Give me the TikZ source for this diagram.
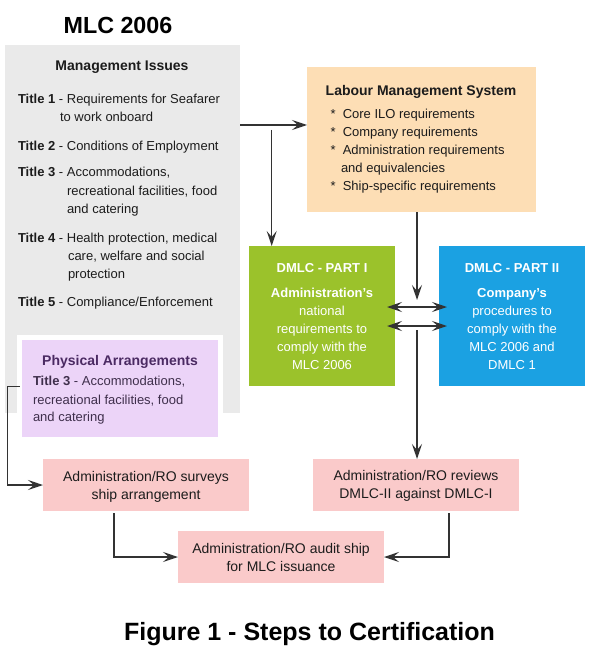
\documentclass[tikz,border=0pt]{standalone}
\usepackage{fontspec}
\setmainfont{Liberation Sans}
\usetikzlibrary{arrows.meta}
\definecolor{grayc}{HTML}{EAEAEA}
\definecolor{purc}{HTML}{ECD4F8}
\definecolor{purh}{HTML}{4B2A63}
\definecolor{purt}{HTML}{3F2F4C}
\definecolor{peach}{HTML}{FDDEB5}
\definecolor{greenc}{HTML}{9BC22B}
\definecolor{bluec}{HTML}{1BA1E2}
\definecolor{pinkc}{HTML}{FACACA}
\definecolor{arrc}{HTML}{333333}
\definecolor{txtc}{HTML}{1C1C1C}
\tikzset{
  box/.style={rectangle, inner sep=0pt, outer sep=0pt, draw=none},
  tx/.style={inner sep=0pt, outer sep=0pt, text=txtc, font=\fontsize{13}{18}\selectfont},
  hd/.style={inner sep=0pt, outer sep=0pt, text=txtc, font=\fontsize{14}{18}\selectfont\bfseries},
  pk/.style={inner sep=0pt, outer sep=0pt, text=txtc, font=\fontsize{14}{18}\selectfont, anchor=base},
  wt/.style={inner sep=0pt, outer sep=0pt, text=white, font=\fontsize{13}{18}\selectfont, anchor=base},
  arr/.style={draw=arrc, line width=1.4pt, -{Stealth[length=15pt,width=10pt,inset=6pt]}},
  darr/.style={draw=arrc, line width=1.4pt, {Stealth[length=15pt,width=10pt,inset=6pt]}-{Stealth[length=15pt,width=10pt,inset=6pt]}, shorten <=-8pt, shorten >=-8pt}
}
\begin{document}
\begin{tikzpicture}[x=1pt,y=-1pt]
\useasboundingbox[fill=white] (0,0) rectangle (590,650);

% title
\node[inner sep=0pt, anchor=base, font=\fontsize{23.3}{28}\selectfont\bfseries, text=black] (ttl) at (118,33.3) {MLC 2006};

% boxes
\node[box, fill=grayc, minimum width=235pt, minimum height=368pt, anchor=north west] (mi) at (5,45) {};
\node[box, fill=purc, draw=white, line width=5pt, minimum width=201pt, minimum height=102pt] (pa) at (120,388.5) {};
\node[box, fill=peach, minimum width=229pt, minimum height=145pt, anchor=north west] (lms) at (307,67) {};
\node[box, fill=greenc, minimum width=146pt, minimum height=140pt, anchor=north west] (d1) at (249,246) {};
\node[box, fill=bluec, minimum width=146pt, minimum height=140pt, anchor=north west] (d2) at (439,246) {};
\node[box, fill=pinkc, minimum width=206pt, minimum height=52pt, anchor=north west] (sv) at (43,459) {};
\node[box, fill=pinkc, minimum width=206pt, minimum height=52pt, anchor=north west] (rv) at (313,459) {};
\node[box, fill=pinkc, minimum width=206pt, minimum height=52pt, anchor=north west] (au) at (178,531) {};

% management issues text
\node[hd, anchor=base] (mih) at (122,71) {Management Issues};
\node[tx, anchor=base west] (t1a) at (18,103.3) {\textbf{Title 1} - Requirements for Seafarer};
\node[tx, anchor=base west] (t1b) at (60,121.7) {to work onboard};
\node[tx, anchor=base west] (t2) at (18,150.5) {\textbf{Title 2} - Conditions of Employment};
\node[tx, anchor=base west] (t3a) at (18,176.5) {\textbf{Title 3} - Accommodations,};
\node[tx, anchor=base west] (t3b) at (67,195) {recreational facilities, food};
\node[tx, anchor=base west] (t3c) at (67,213) {and catering};
\node[tx, anchor=base west] (t4a) at (18,242) {\textbf{Title 4} - Health protection, medical};
\node[tx, anchor=base west] (t4b) at (68,260.5) {care, welfare and social};
\node[tx, anchor=base west] (t4c) at (68,278) {protection};
\node[tx, anchor=base west] (t5) at (18,306) {\textbf{Title 5} - Compliance/Enforcement};

% physical arrangements text
\node[hd, anchor=base, text=purh] (pah) at (120,365) {Physical Arrangements};
\node[tx, anchor=base west, text=purt] (pa1) at (33,385.7) {\textbf{Title 3} - Accommodations,};
\node[tx, anchor=base west, text=purt] (pa2) at (33,404) {recreational facilities, food};
\node[tx, anchor=base west, text=purt] (pa3) at (33,421.7) {and catering};

% LMS text
\node[hd, anchor=base] (lmsh) at (421,95.7) {Labour Management System};
\node[tx, anchor=base west] (l1) at (330.7,118.3) {*\hspace{7pt}Core ILO requirements};
\node[tx, anchor=base west] (l2) at (330.7,136.7) {*\hspace{7pt}Company requirements};
\node[tx, anchor=base west] (l3) at (330.7,154.3) {*\hspace{7pt}Administration requirements};
\node[tx, anchor=base west] (l3b) at (341,172.3) {and equivalencies};
\node[tx, anchor=base west] (l4) at (330.7,190) {*\hspace{7pt}Ship-specific requirements};

% DMLC part I
\node[wt] (g1) at (322,272.3) {\bfseries DMLC - PART I};
\node[wt] (g2) at (322,297.3) {\bfseries Administration’s};
\node[wt] (g3) at (322,315) {national};
\node[wt] (g4) at (322,333.3) {requirements to};
\node[wt] (g5) at (322,351) {comply with the};
\node[wt] (g6) at (322,369) {MLC 2006};

% DMLC part II
\node[wt] (b1) at (512,272.3) {\bfseries DMLC - PART II};
\node[wt] (b2) at (512,297.3) {\bfseries Company’s};
\node[wt] (b3) at (512,315) {procedures to};
\node[wt] (b4) at (512,333.3) {comply with the};
\node[wt] (b5) at (512,351) {MLC 2006 and};
\node[wt] (b6) at (512,369) {DMLC 1};

% pink texts
\node[pk] (sv1) at (146,481) {Administration/RO surveys};
\node[pk] (sv2) at (146,499) {ship arrangement};
\node[pk] (rv1) at (416,480) {Administration/RO reviews};
\node[pk] (rv2) at (416,498.5) {DMLC-II against DMLC-I};
\node[pk] (au1) at (281,553) {Administration/RO audit ship};
\node[pk] (au2) at (281,571) {for MLC issuance};

% caption
\node[inner sep=0pt, anchor=base, font=\fontsize{25}{30}\selectfont\bfseries, text=black] (cap) at (309.5,640) {Figure 1 - Steps to Certification};

% connectors
\coordinate (br) at (271.7,130);
\coordinate (lt) at (417,300);
\coordinate (rs) at (417,330);
\draw[arr] (mi.east |- 0,125) -- (lms.west |- 0,125);
\draw[arr] (br) -- (br |- d1.north);
\draw[arr] (lms.south -| lt) -- (lt);
\draw[darr] (d1.east |- 0,307) -- (d2.west |- 0,307);
\draw[darr] (d1.east |- 0,326) -- (d2.west |- 0,326);
\draw[arr] (rs) -- (rs |- rv.north);
\draw[arr] ([yshift=2pt]pa.west) -- ++(-12,0) |- (sv.west);
\draw[arr, shorten <=2pt] (sv.south -| 114,0) |- (au.west);
\draw[arr, shorten <=2pt] (rv.south -| 449,0) |- (au.east);
\end{tikzpicture}
\end{document}
